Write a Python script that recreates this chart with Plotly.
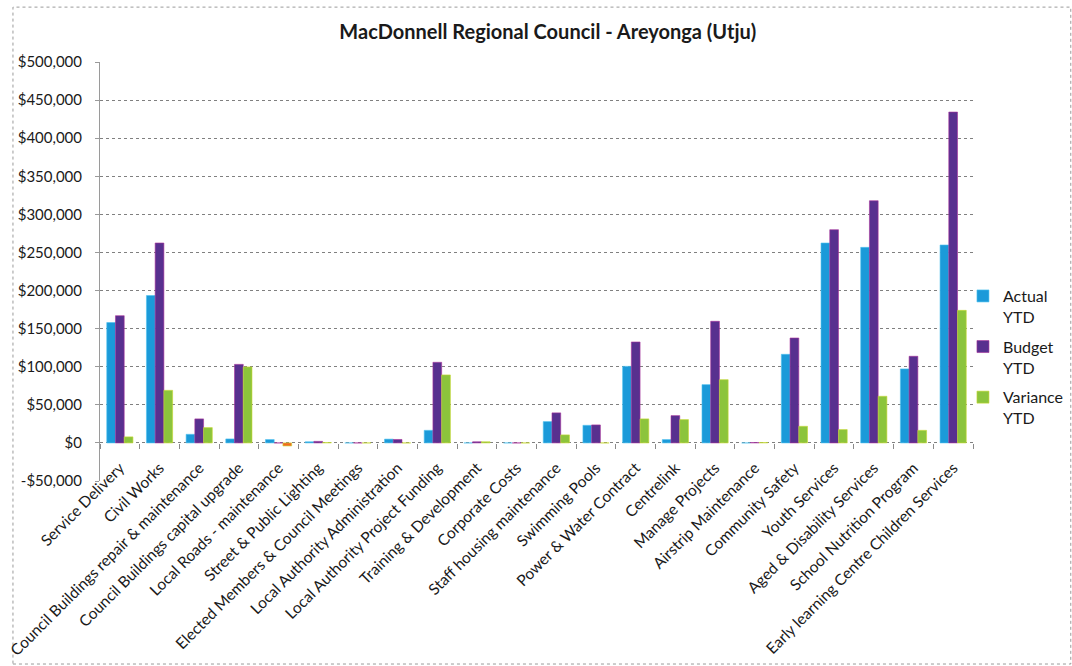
import plotly.graph_objects as go

categories = [
    "Service Delivery", "Civil Works", "Council Buildings repair & maintenance",
    "Council Buildings capital upgrade", "Local Roads - maintenance",
    "Street & Public Lighting", "Elected Members & Council Meetings",
    "Local Authority Administration", "Local Authority Project Funding",
    "Training & Development", "Corporate Costs", "Staff housing maintenance",
    "Swimming Pools", "Power & Water Contract", "Centrelink", "Manage Projects",
    "Airstrip Maintenance", "Community Safety", "Youth Services",
    "Aged & Disability Services", "School Nutrition Program",
    "Early learning Centre Children Services",
]
actual = [158000, 193500, 11300, 5200, 4400, 1500, 0, 5000, 16500, 0, 0,
          28000, 23100, 100500, 4400, 76500, 0, 116300, 262400, 256700, 97100, 259800]
budget = [167000, 262400, 31500, 103100, 0, 2000, 0, 4500, 105800, 1500, 0,
          39400, 23600, 132500, 35800, 159600, 500, 137700, 279900, 317900, 113700, 434300]
variance = [7900, 69000, 20100, 99700, -4000, 500, 0, 0, 89200, 1500, 0,
            10500, 0, 31500, 30600, 83000, 500, 21800, 17500, 61200, 16500, 174000]
series_names = ["Actual<br>YTD", "Budget<br>YTD", "Variance<br>YTD"]
y_ticks = [-50000, 0, 50000, 100000, 150000, 200000, 250000, 300000, 350000, 400000, 450000, 500000]
y_tick_text = ["-$50,000", "$0", "$50,000", "$100,000", "$150,000", "$200,000", "$250,000",
               "$300,000", "$350,000", "$400,000", "$450,000", "$500,000"]

FONT = "Lato, 'Open Sans', sans-serif"
TXT = "#1a1a1a"
var_colors = ["#F26B21" if v < 0 else "#8CC43C" for v in variance]

fig = go.Figure()
fig.add_trace(go.Bar(x=categories, y=actual, name=series_names[0], legendgroup="a",
                     marker=dict(color="#1B9AD9", line=dict(color="#4FC3F0", width=0.6))))
fig.add_trace(go.Bar(x=categories, y=budget, name=series_names[1], legendgroup="b",
                     marker=dict(color="#58308F", line=dict(color="#A8309A", width=0.6))))
fig.add_trace(go.Bar(x=categories, y=variance, name=series_names[2], legendgroup="c",
                     marker=dict(color=var_colors, line=dict(color="#C8D830", width=0.6))))

fig.update_layout(
    width=1072, height=666,
    margin=dict(l=100, r=99, t=62, b=185, autoexpand=False),
    paper_bgcolor="white", plot_bgcolor="white",
    barmode="group", bargap=0.34, bargroupgap=0,
    font=dict(family=FONT, size=15, color=TXT),
    title=dict(text="<b>MacDonnell Regional Council - Areyonga (Utju)</b>",
               x=0.511, xanchor="center", y=1 - 32 / 666, yanchor="middle",
               font=dict(family=FONT, size=20, color=TXT)),
    legend=dict(x=0.9885, xanchor="left", y=0.482, yanchor="top", valign="top",
                font=dict(family=FONT, size=16, color=TXT), tracegroupgap=6,
                bgcolor="rgba(0,0,0,0)", itemwidth=30),
)

# category axis drawn at the zero level (labels hang below the zero line)
fig.update_xaxes(
    type="category", categoryorder="array", categoryarray=categories,
    anchor="free", position=50000 / 550000,
    tickangle=-45, ticks="outside", tickson="boundaries", ticklen=5, tickcolor="#8a8a8a",
    ticklabelstandoff=12,
    showgrid=False, showline=False, zeroline=False,
    tickfont=dict(family=FONT, size=15.5, color=TXT),
)
fig.update_yaxes(
    range=[-50000, 500000], tickmode="array", tickvals=y_ticks, ticktext=y_tick_text,
    showgrid=True, gridcolor="#808080", griddash="dot", gridwidth=1,
    zeroline=False, showline=True, linecolor="#9a9a9a", linewidth=1,
    ticks="outside", ticklen=4, tickcolor="#9a9a9a", ticklabelstandoff=10,
    tickfont=dict(family=FONT, size=15, color=TXT),
)

# chart-area border
fig.add_shape(type="rect", xref="paper", yref="paper",
              x0=-0.0997, x1=1.112, y0=-0.4368, y1=1.131,
              line=dict(color="#9a9a9a", width=1, dash="dot"), layer="below")

fig.write_html("out.html")
